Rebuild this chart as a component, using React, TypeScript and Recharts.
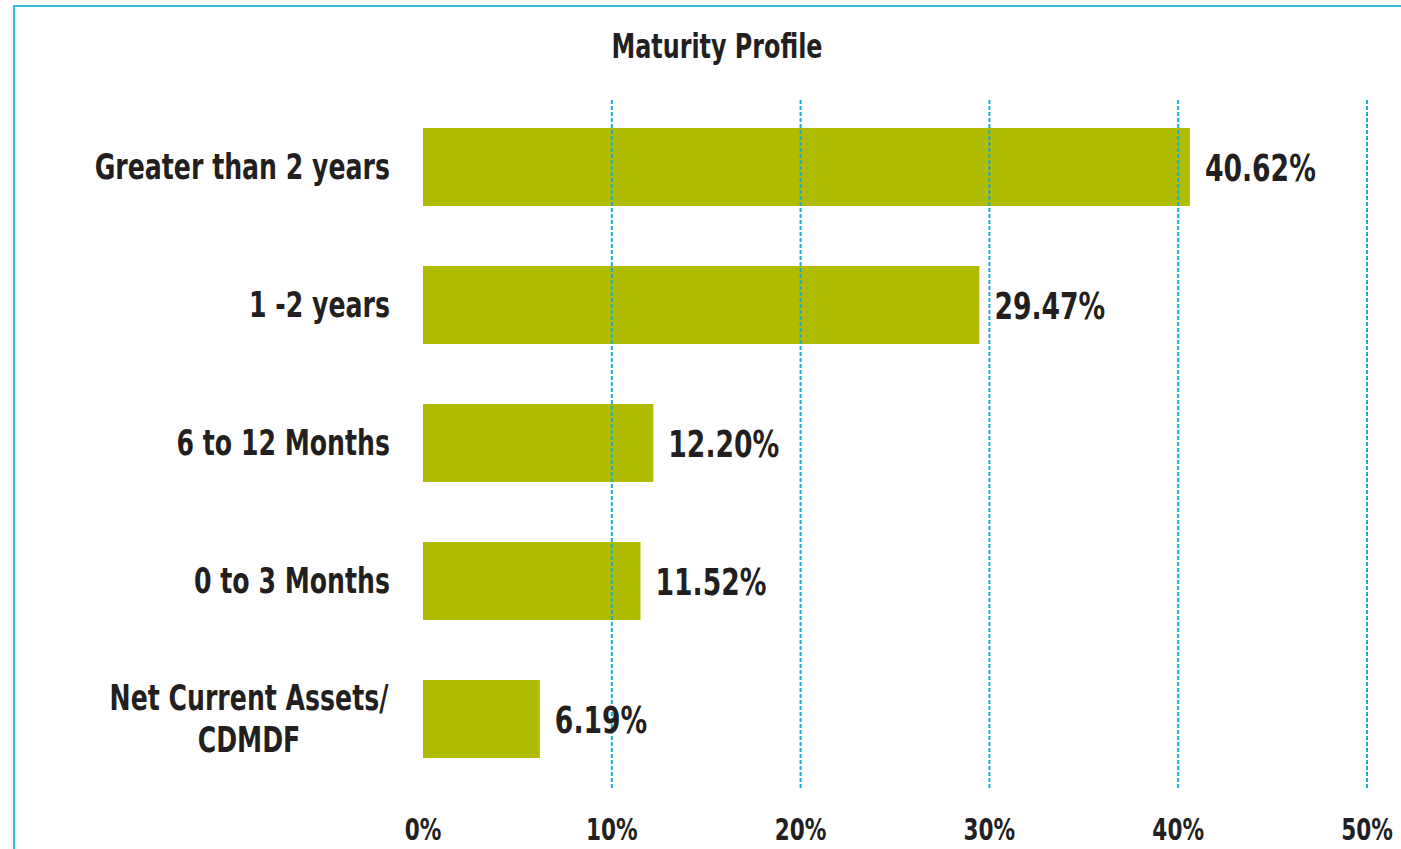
import React from "react";
import {
  Bar,
  BarChart,
  LabelList,
  ReferenceLine,
  XAxis,
  YAxis,
} from "recharts";

const categories = [
  "Greater than 2 years",
  "1 -2 years",
  "6 to 12 Months",
  "0 to 3 Months",
  "Net Current Assets/\nCDMDF",
];
const shares = [40.62, 29.47, 12.2, 11.52, 6.19];
const xTicks = [0, 10, 20, 30, 40, 50];
const gridTicks = [10, 20, 30, 40, 50];

const FONT = "'DejaVu Sans Condensed', 'DejaVu Sans', sans-serif";
const SQUEEZE = 0.8; // reference font is much narrower than anything installed
const TEXT = "#231f20";
const BAR = "#afbc00";
const GRID = "#1aaed0";
const BORDER = "#35bcd8";

const chartData = categories.map((name, i) => ({ name, value: shares[i] }));

// text drawn at (x, y) and squeezed horizontally around that point
const Narrow = ({ x, y, anchor, size, children }: any) => (
  <g transform={`translate(${x},${y}) scale(${SQUEEZE},1)`}>
    <text
      x={0}
      y={0}
      textAnchor={anchor}
      dominantBaseline="central"
      fontFamily={FONT}
      fontWeight="bold"
      fontSize={size}
      fill={TEXT}
    >
      {children}
    </text>
  </g>
);

const CategoryTick = ({ x, y, payload }: any) => {
  const lines = String(payload.value).split("\n");
  if (lines.length === 1) {
    return (
      <Narrow x={x - 33} y={y} anchor="end" size={35}>
        {payload.value}
      </Narrow>
    );
  }
  return (
    <g>
      {lines.map((line, i) => (
        <Narrow key={i} x={x - 174} y={y + (i - 0.5) * 42} anchor="middle" size={35}>
          {line}
        </Narrow>
      ))}
    </g>
  );
};

const PercentTick = ({ x, y, payload }: any) => (
  <Narrow x={x} y={y + 34} anchor="middle" size={30}>
    {`${payload.value}%`}
  </Narrow>
);

const ValueLabel = ({ x, y, width, height, value }: any) => (
  <Narrow x={x + width + 15} y={y + height / 2 + 1} anchor="start" size={37}>
    {`${Number(value).toFixed(2)}%`}
  </Narrow>
);

export default function App() {
  return (
    <div
      style={{
        position: "absolute",
        left: 0,
        top: 0,
        width: 1401,
        height: 849,
        background: "#fff",
        overflow: "hidden",
      }}
    >
      <div
        style={{
          position: "absolute",
          left: 13,
          top: 5,
          width: 1401,
          height: 849,
          borderLeft: `2px solid ${BORDER}`,
          borderTop: `2px solid ${BORDER}`,
        }}
      />
      <div
        style={{
          position: "absolute",
          left: 517,
          width: 400,
          top: 26,
          textAlign: "center",
          fontFamily: FONT,
          fontWeight: "bold",
          fontSize: 34,
          lineHeight: "40px",
          color: TEXT,
          transform: "scaleX(0.78)",
        }}
      >
        Maturity Profile
      </div>
      <div style={{ position: "absolute", left: 0, top: 0 }}>
        <BarChart
          width={1401}
          height={849}
          data={chartData}
          layout="vertical"
          barSize={78}
          margin={{ top: 98, right: 34, bottom: 11, left: 0 }}
        >
          <XAxis
            type="number"
            domain={[0, 50]}
            ticks={xTicks}
            axisLine={false}
            tickLine={false}
            height={50}
            interval={0}
            tick={<PercentTick />}
          />
          <YAxis
            type="category"
            dataKey="name"
            width={423}
            axisLine={false}
            tickLine={false}
            tickSize={0}
            tickMargin={0}
            interval={0}
            tick={<CategoryTick />}
          />
          {gridTicks.map((t) => (
            <ReferenceLine
              key={t}
              x={t}
              stroke={GRID}
              strokeWidth={2}
              strokeDasharray="4 2"
            />
          ))}
          <Bar dataKey="value" fill={BAR} isAnimationActive={false}>
            <LabelList dataKey="value" content={<ValueLabel />} />
          </Bar>
        </BarChart>
      </div>
    </div>
  );
}
